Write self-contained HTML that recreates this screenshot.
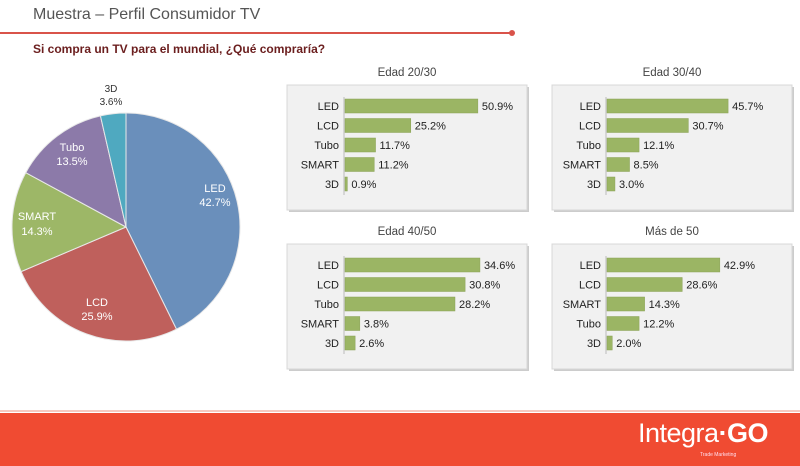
<!DOCTYPE html>
<html><head><meta charset="utf-8"><style>
body{margin:0;width:800px;height:466px;overflow:hidden;background:#fff;font-family:"Liberation Sans",sans-serif;position:relative}
.t{position:absolute;white-space:nowrap}
</style></head><body>
<div class="t" style="left:33px;top:6px;font-size:16px;color:#555">Muestra – Perfil Consumidor TV</div>
<div style="position:absolute;left:0;top:32px;width:512px;height:2px;background:#d9534a"></div>
<div style="position:absolute;left:509px;top:30px;width:6px;height:6px;border-radius:3px;background:#d9534a"></div>
<div class="t" style="left:33px;top:42px;font-size:12px;font-weight:bold;color:#6b1e1e">Si compra un TV para el mundial, ¿Qué compraría?</div>
<div style="position:absolute;left:0;top:413px;width:800px;height:53px;background:#f04b32"></div>
<div style="position:absolute;left:0;top:410px;width:800px;height:2px;background:#f6c9c0"></div>
<div class="t" style="left:638px;top:418px;font-size:27px;color:#fff;letter-spacing:-0.5px">Integra<b>·GO</b></div>
<div class="t" style="left:700px;top:452px;font-size:5px;color:#fde">Trade Marketing</div>
<svg id="s" width="800" height="466" style="position:absolute;left:0;top:0" font-family="Liberation Sans, sans-serif"></svg>
<script>
var s=document.getElementById('s'),h='';
var cx=126,cy=227,r=114,a=0;
var sl=[[42.7,'#6a8fbb','LED'],[25.9,'#bf605c','LCD'],[14.3,'#9db767','SMART'],[13.5,'#8c7aa9'],[3.6,'#4fa9c0']];
sl.forEach(function(d){var b=a+d[0]*3.6,x1=cx+r*Math.sin(a*Math.PI/180),y1=cy-r*Math.cos(a*Math.PI/180),x2=cx+r*Math.sin(b*Math.PI/180),y2=cy-r*Math.cos(b*Math.PI/180);
h+='<path d="M'+cx+' '+cy+'L'+x1+' '+y1+'A'+r+' '+r+' 0 '+(b-a>180?1:0)+' 1 '+x2+' '+y2+'Z" fill="'+d[1]+'" stroke="#e8e8e8" stroke-width="1"/>';a=b;});
function tx(x,y,t,c,an,sz,w){h+='<text x="'+x+'" y="'+y+'" fill="'+c+'" font-size="'+(sz||11)+'" text-anchor="'+(an||'middle')+'"'+(w?' font-weight="bold"':'')+'>'+t+'</text>';}
tx(215,192,'LED','#fff');tx(215,206,'42.7%','#fff');
tx(97,306,'LCD','#fff');tx(97,320,'25.9%','#fff');
tx(37,220,'SMART','#fff');tx(37,235,'14.3%','#fff');
tx(72,151,'Tubo','#fff');tx(72,165,'13.5%','#fff');
tx(111,92,'3D','#333',0,10);tx(111,105,'3.6%','#333',0,10);
var P=[[287,85,345,2.61,'Edad 20/30',[['LED',50.9],['LCD',25.2],['Tubo',11.7],['SMART',11.2],['3D',0.9]]],
[552,85,607,2.65,'Edad 30/40',[['LED',45.7],['LCD',30.7],['Tubo',12.1],['SMART',8.5],['3D',3.0]]],
[287,244,345,3.9,'Edad 40/50',[['LED',34.6],['LCD',30.8],['Tubo',28.2],['SMART',3.8],['3D',2.6]]],
[552,244,607,2.63,'Más de 50',[['LED',42.9],['LCD',28.6],['SMART',14.3],['Tubo',12.2],['3D',2.0]]]];
P.forEach(function(p){var x=p[0],y=p[1];
h+='<rect x="'+(x+2)+'" y="'+(y+2)+'" width="240" height="125" fill="#ccc"/>';
h+='<rect x="'+x+'" y="'+y+'" width="240" height="125" fill="#f1f1f1" stroke="#d8d8d8"/>';
tx(x+120,y-9,p[4],'#444','middle',11.5);
h+='<line x1="'+(p[2]-1)+'" y1="'+(y+12)+'" x2="'+(p[2]-1)+'" y2="'+(y+110)+'" stroke="#bbb"/>';
p[5].forEach(function(b,i){var yy=y+14+i*19.5,w=b[1]*p[3];
h+='<rect x="'+p[2]+'" y="'+yy+'" width="'+w+'" height="14" fill="#9bb564" stroke="#8aa256" stroke-width="0.5"/>';
tx(p[2]-6,yy+11,b[0],'#222','end',11);tx(p[2]+w+4,yy+11,b[1].toFixed(1)+'%','#222','start',11);});});
s.innerHTML=h;
</script>
</body></html>
